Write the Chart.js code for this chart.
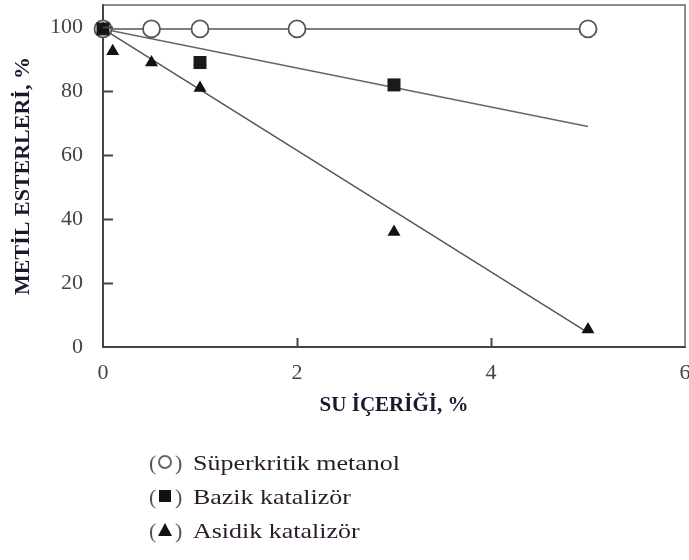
<!DOCTYPE html>
<html>
<head>
<meta charset="utf-8">
<script src="https://cdn.jsdelivr.net/npm/chart.js@4.4.1/dist/chart.umd.min.js"></script>
<style>
  html, body { margin: 0; padding: 0; background: #fff; }
  #wrap { width: 689px; height: 560px; position: relative; }
</style>
</head>
<body>
<div id="wrap"><canvas id="c" width="689" height="560"></canvas></div>
<script>
// Water content (%) and methyl ester yield (%) for each process
const superX = [0, 0.5, 1, 2, 5];
const superY = [99.5, 99.5, 99.5, 99.5, 99.5];

const bazikX = [0, 1, 3];
const bazikY = [99.5, 89, 82];

const asidikX = [0, 0.1, 0.5, 1, 3, 5];
const asidikY = [99.5, 92.5, 89, 81, 36, 5.5];

// Trend lines (end points of each fitted line)
const fitX = [0, 5];
const superFit = [99.5, 99.5];
const bazikFit = [99.5, 69];
const asidikFit = [99.5, 4.5];

const xTicks = [0, 2, 4, 6];
const yTicks = [0, 20, 40, 60, 80, 100];

const legendLabels = ['Süperkritik metanol', 'Bazik katalizör', 'Asidik katalizör'];

const pts = (xs, ys) => xs.map((x, i) => ({ x: x, y: ys[i] }));

const SERIF = '"Liberation Serif", "DejaVu Serif", serif';

// Inner tick marks, plot frame and the symbol legend below the axes
const framePlugin = {
  id: 'frame',
  afterDatasetsDraw(chart) {
    const { ctx, chartArea: a, scales } = chart;
    ctx.save();
    ctx.strokeStyle = '#666';
    ctx.lineWidth = 1.5;
    ctx.beginPath();
    ctx.moveTo(a.left, a.top);
    ctx.lineTo(a.right, a.top);
    ctx.lineTo(a.right, a.bottom);
    ctx.stroke();

    ctx.strokeStyle = '#444';
    ctx.lineWidth = 2;
    ctx.beginPath();
    yTicks.forEach(v => {
      if (v === 0) return;
      const y = Math.round(scales.y.getPixelForValue(v)) + 0.5;
      ctx.moveTo(a.left, y);
      ctx.lineTo(a.left + 10, y);
    });
    xTicks.forEach(v => {
      if (v === 0 || v === 6) return;
      const x = Math.round(scales.x.getPixelForValue(v)) + 0.5;
      ctx.moveTo(x, a.bottom);
      ctx.lineTo(x, a.bottom - 9);
    });
    ctx.stroke();
    ctx.restore();
  },
  afterDraw(chart) {
    const { ctx } = chart;
    const rows = [470, 504, 538];
    ctx.save();
    ctx.font = '22px ' + SERIF;
    ctx.textBaseline = 'alphabetic';
    ctx.textAlign = 'left';
    rows.forEach((base, i) => {
      ctx.fillStyle = '#555';
      ctx.fillText('(', 149, base);
      ctx.fillText(')', 175, base);
      const cx = 165, cy = base - 8;
      if (i === 0) {
        ctx.strokeStyle = '#666';
        ctx.lineWidth = 2;
        ctx.beginPath();
        ctx.arc(cx, cy, 6, 0, Math.PI * 2);
        ctx.stroke();
      } else if (i === 1) {
        ctx.fillStyle = '#111';
        ctx.fillRect(cx - 6, cy - 6, 12, 12);
      } else {
        ctx.fillStyle = '#111';
        ctx.beginPath();
        ctx.moveTo(cx, cy - 7);
        ctx.lineTo(cx + 7, cy + 6);
        ctx.lineTo(cx - 7, cy + 6);
        ctx.closePath();
        ctx.fill();
      }
      // labels are set slightly wide
      ctx.save();
      ctx.translate(193, base);
      ctx.scale(1.18, 1);
      ctx.fillStyle = '#2a1a2a';
      ctx.fillText(legendLabels[i], 0, 0);
      ctx.restore();
    });
    ctx.restore();
  }
};

new Chart(document.getElementById('c'), {
  type: 'scatter',
  data: {
    datasets: [
      { label: 'fit-super', data: pts(fitX, superFit), showLine: true, pointRadius: 0,
        borderColor: '#555', borderWidth: 1.5, order: 10, clip: false },
      { label: 'fit-bazik', data: pts(fitX, bazikFit), showLine: true, pointRadius: 0,
        borderColor: '#666', borderWidth: 1.5, order: 10, clip: false },
      { label: 'fit-asidik', data: pts(fitX, asidikFit), showLine: true, pointRadius: 0,
        borderColor: '#555', borderWidth: 1.5, order: 10, clip: false },
      { label: legendLabels[0], data: pts(superX, superY), pointStyle: 'circle', pointRadius: 8.5,
        backgroundColor: '#fff', borderColor: '#555', borderWidth: 1.8, order: 3, clip: false },
      { label: legendLabels[1], data: pts(bazikX, bazikY), pointStyle: 'rect', pointRadius: 9.2,
        backgroundColor: '#1a1a1a', borderColor: '#1a1a1a', borderWidth: 0, order: 2, clip: false },
      { label: legendLabels[2], data: pts(asidikX, asidikY), pointStyle: 'triangle', pointRadius: 7.5,
        backgroundColor: '#111', borderColor: '#111', borderWidth: 0, order: 1, clip: false }
    ]
  },
  options: {
    responsive: false,
    animation: false,
    events: [],
    layout: { autoPadding: false, padding: { top: 5, right: 4, left: 0, bottom: 0 } },
    plugins: { legend: { display: false }, tooltip: { enabled: false } },
    scales: {
      x: {
        type: 'linear', min: 0, max: 6,
        afterBuildTicks: s => { s.ticks = xTicks.map(v => ({ value: v })); },
        afterFit: s => { s.height = 213; s.paddingLeft = 0; s.paddingRight = 0; },
        grid: { display: false, drawTicks: false },
        border: { display: true, color: '#444', width: 2 },
        ticks: { padding: 13, color: '#444', font: { family: SERIF, size: 22 } },
        title: { display: true, text: 'SU İÇERİĞİ, %', color: '#1c1830',
                 font: { family: SERIF, size: 21, weight: 'bold' }, padding: { bottom: 142 } }
      },
      y: {
        type: 'linear', min: 0, max: 107,
        afterBuildTicks: s => { s.ticks = yTicks.map(v => ({ value: v })); },
        afterFit: s => { s.width = 103; s.paddingTop = 0; s.paddingBottom = 0; },
        grid: { display: false, drawTicks: false },
        border: { display: true, color: '#444', width: 2 },
        ticks: { padding: 20, color: '#444', font: { family: SERIF, size: 22 } },
        title: { display: true, text: 'METİL ESTERLERİ, %', color: '#1c1830',
                 font: { family: SERIF, size: 22, weight: 'bold' }, padding: { top: 10 } }
      }
    }
  },
  plugins: [framePlugin]
});
</script>
</body>
</html>
